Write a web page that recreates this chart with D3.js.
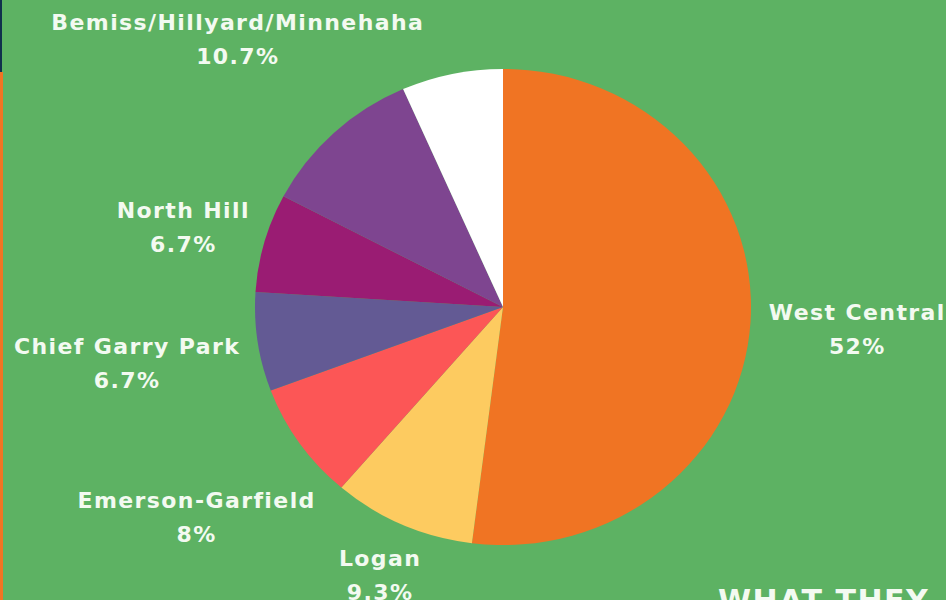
<!DOCTYPE html>
<html>
<head>
<meta charset="utf-8">
<script src="https://cdn.jsdelivr.net/npm/d3@7"></script>
<style>
  body { margin: 0; background: #5db263; overflow: hidden; }
  text { font-family: "DejaVu Sans", sans-serif; font-weight: bold; fill: #f3faf1; }
</style>
</head>
<body>
<div id="chart"></div>
<script>
// Neighborhood shares (percent), clockwise from 12 o'clock
const neighborhoods = ['West Central', 'Logan', 'Emerson-Garfield', 'Chief Garry Park', 'North Hill', 'Bemiss/Hillyard/Minnehaha', 'Other'];
const shares = [52, 9.3, 8, 6.7, 6.7, 10.7, 6.6];
const shareLabels = ['52%', '9.3%', '8%', '6.7%', '6.7%', '10.7%', ''];
const sliceColors = ['#f07423', '#fdcb60', '#fc5656', '#635a94', '#9a1c73', '#7e4590', '#ffffff'];

// label placement: distance from the pie centre along the slice's mid angle, plus a small nudge
const labelDistance = [355, 293, 370, 380, 332, 377, 0];
const labelNudge = [[0, 0], [-4, 0], [-3, -2], [0, 0], [0, 10], [-8, 8], [0, 0]];

const width = 946, height = 600;
const cx = 503, cy = 307, radius = 248, squash = 0.96;

const svg = d3.select('#chart')
  .append('svg')
  .attr('width', width)
  .attr('height', height);

svg.append('rect').attr('width', width).attr('height', height).attr('fill', '#5db263');

// thin page edges
svg.append('rect').attr('x', 0).attr('y', 0).attr('width', 2).attr('height', 72).attr('fill', '#10304c');
svg.append('rect').attr('x', 0).attr('y', 72).attr('width', 3).attr('height', height - 72).attr('fill', '#f07423');

const pie = d3.pie().sort(null).value(d => d.value);
const arc = d3.arc().innerRadius(0).outerRadius(radius);

const data = neighborhoods.map((name, i) => ({
  name: name, value: shares[i], pct: shareLabels[i], color: sliceColors[i],
  dist: labelDistance[i], nudge: labelNudge[i]
}));
const arcs = pie(data);

const g = svg.append('g')
  .attr('transform', `translate(${cx},${cy}) scale(1,${squash})`);

g.selectAll('path')
  .data(arcs)
  .enter().append('path')
  .attr('d', arc)
  .attr('fill', d => d.data.color);

// labels
const labels = svg.selectAll('.label')
  .data(arcs.filter(d => d.data.pct !== ''))
  .enter().append('text')
  .attr('class', 'label')
  .attr('text-anchor', 'middle')
  .style('font-size', '22px')
  .style('letter-spacing', '1.4px')
  .attr('transform', d => {
    const a = (d.startAngle + d.endAngle) / 2;
    const x = cx + d.data.dist * Math.sin(a) + d.data.nudge[0];
    const y = cy - d.data.dist * Math.cos(a) + d.data.nudge[1];
    return `translate(${x},${y})`;
  });

labels.append('tspan').attr('x', 0).attr('y', -9).text(d => d.data.name);
labels.append('tspan').attr('x', 0).attr('y', 25).text(d => d.data.pct);

svg.append('text')
  .attr('x', 718)
  .attr('y', 611)
  .style('font-size', '30px')
  .style('letter-spacing', '1.5px')
  .text('WHAT THEY');
</script>
</body>
</html>
